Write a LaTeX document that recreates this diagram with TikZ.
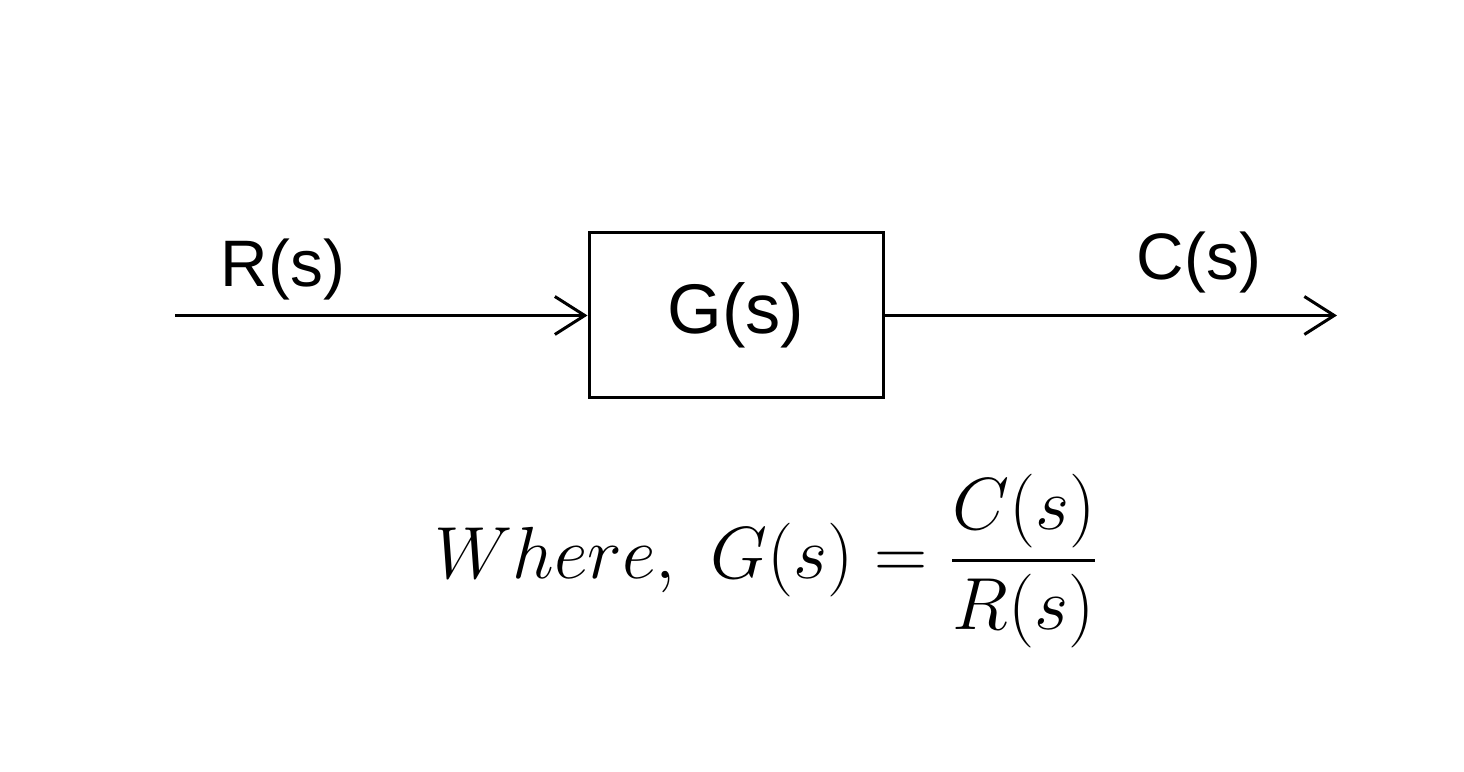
\documentclass[tikz,border=0pt]{standalone}
\usepackage{fix-cm}
\usepackage{amsmath}
\usepackage{fontspec}
\newfontfamily\labelfont{Liberation Sans}
\usetikzlibrary{arrows.meta}
\tikzset{
  wire/.style={line width=0.85pt, -{Straight Barb[length=8.5pt,width=10.8pt,line width=0.85pt]}},
  blockbox/.style={draw, line width=0.85pt, minimum width=2.94cm, minimum height=1.65cm, inner sep=0pt,
    font=\labelfont\fontsize{20}{24}\selectfont},
  siglabel/.style={anchor=base, inner sep=0pt, font=\labelfont\fontsize{18.7}{22}\selectfont},
  eqlabel/.style={anchor=base, inner sep=0pt, font=\fontsize{21}{25}\selectfont}
}
\begin{document}
\begin{tikzpicture}
\useasboundingbox (0,0) rectangle (14.64,7.72);
\node[blockbox] (G) at (7.36,4.565) {\raisebox{-0.02cm}{G(s)}};
\coordinate (in) at (1.75,4.565);
\coordinate (out) at (13.37,4.565);
\draw[wire] (in) -- (G.west);
\draw[wire] (G.east) -- (out);
\node[siglabel] (R) at (2.83,4.85) {R(s)};
\node[siglabel] (C) at (11.99,4.92) {C(s)};
\node[eqlabel] (eq) at (7.67,1.93) {$Where,\ G(s)=\dfrac{C(s)}{R(s)}$};
\end{tikzpicture}
\end{document}
